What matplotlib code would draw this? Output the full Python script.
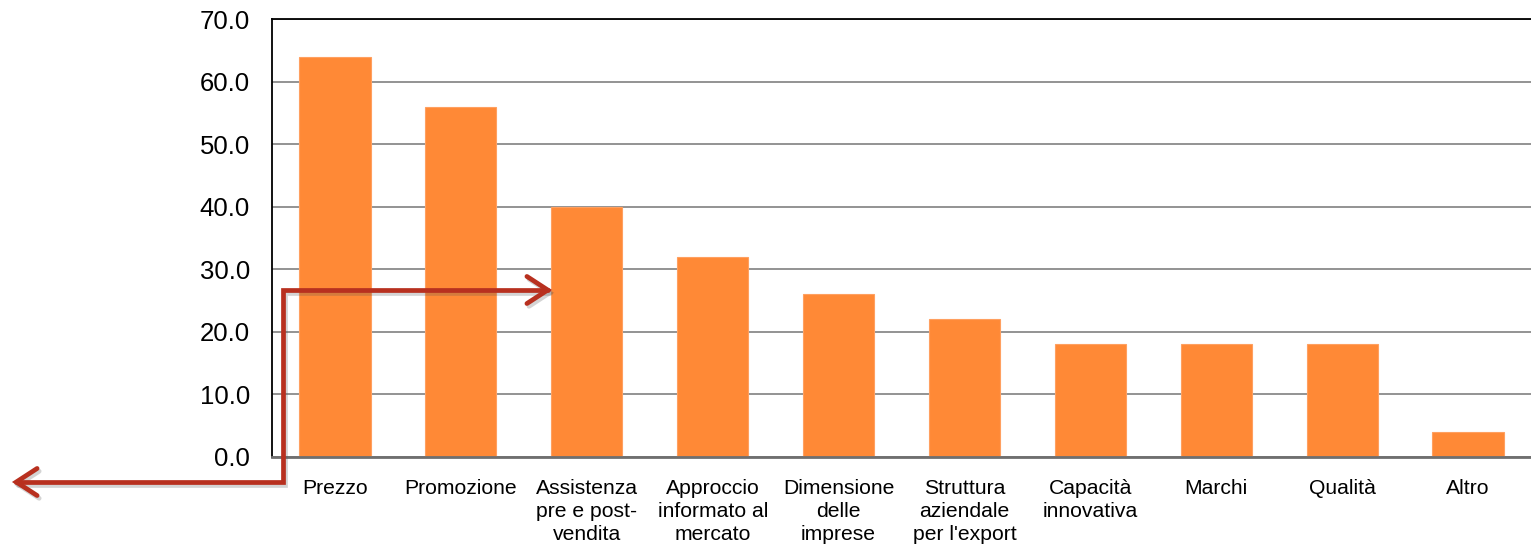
import matplotlib
matplotlib.use('Agg')
import matplotlib.pyplot as plt
from matplotlib.patches import FancyArrowPatch
from matplotlib.path import Path
from matplotlib.transforms import offset_copy

categories = ['Prezzo', 'Promozione', 'Assistenza\npre e post-\nvendita',
              'Approccio\ninformato al\nmercato', 'Dimensione\ndelle\nimprese',
              'Struttura\naziendale\nper l\'export', 'Capacità\ninnovativa',
              'Marchi', 'Qualità', 'Altro']
values = [64.0, 56.0, 40.0, 32.0, 26.0, 22.0, 18.0, 18.0, 18.0, 4.0]
yticks = [0, 10, 20, 30, 40, 50, 60, 70]

plt.rcParams['font.family'] = ['Liberation Sans', 'DejaVu Sans']

fig = plt.figure(figsize=(15.31, 5.45), dpi=100)
ax = fig.add_axes([0.1777, 0.1615, 0.8223, 0.8035])

x = range(len(categories))
ax.bar(x, values, width=0.565, color='#FF8936', edgecolor='#FFA060', linewidth=0.8, zorder=2)

ax.set_xlim(-0.5, len(categories) - 0.5)
ax.set_ylim(0, 70)
ax.set_yticks(yticks)
ax.set_yticklabels(['{:.1f}'.format(v) for v in yticks], fontsize=18.5)
ax.set_xticks(list(x))
ax.set_xticklabels(categories, fontsize=15.2, linespacing=1.27)
ax.tick_params(axis='both', length=0)
ax.tick_params(axis='y', pad=16)
ax.tick_params(axis='x', pad=16)

ax.yaxis.grid(True, color='#8a8a8a', linewidth=1.3, zorder=0)
ax.set_axisbelow(True)
ax.spines['right'].set_visible(False)
ax.spines['left'].set_color('black')
ax.spines['left'].set_linewidth(1.3)
ax.spines['top'].set_color('black')
ax.spines['top'].set_linewidth(1.3)
ax.spines['bottom'].set_color('#6f6f6f')
ax.spines['bottom'].set_linewidth(2.0)

# red elbow arrow drawn across the figure, with a faint drop shadow
path = Path([(0.3606, 0.4679), (0.1848, 0.4679), (0.1848, 0.1156), (0.0078, 0.1156)],
            [Path.MOVETO, Path.LINETO, Path.LINETO, Path.LINETO])
style = '<->,head_length=1.0,head_width=0.65'
shadow_tr = offset_copy(fig.transFigure, fig=fig, x=1.5, y=-2.0, units='points')
for tr, col, alpha, z in [(shadow_tr, '#555555', 0.25, 4), (fig.transFigure, '#B8301F', 1.0, 5)]:
    arrow = FancyArrowPatch(path=path, arrowstyle=style, mutation_scale=15,
                            color=col, alpha=alpha, linewidth=3.4, transform=tr,
                            zorder=z, joinstyle='miter', capstyle='round')
    fig.patches.append(arrow)

fig.savefig('out.png', dpi=100)
